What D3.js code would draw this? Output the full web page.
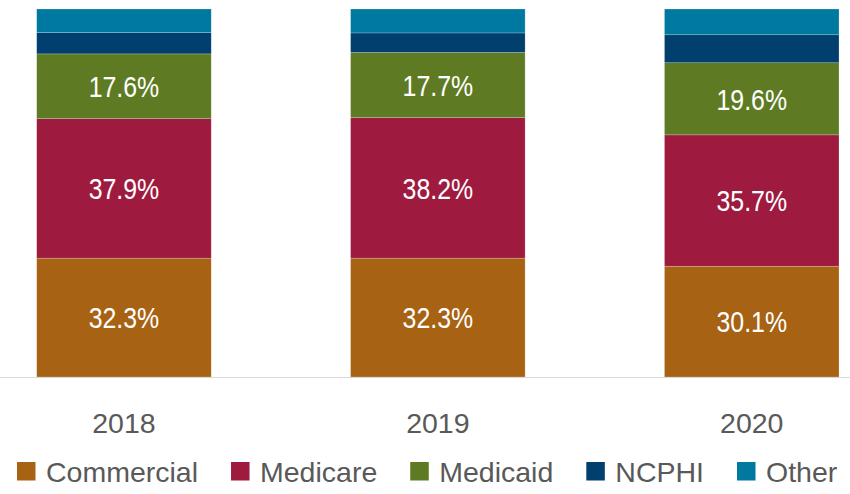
<!DOCTYPE html>
<html lang="en">
  <head>
    <meta charset="UTF-8">
    <title>Payer Mix 2018-2020</title>
    <script src="https://d3js.org/d3.v7.min.js"></script>
    <style>
      body {
        margin: 0;
        padding: 0;
        background-color: #fff;
        font-family: 'Liberation Sans', Arial, sans-serif;
      }
      .bar-label {
        font-size: 30px;
        fill: #fff;
      }
      .year-label {
        font-size: 28.5px;
        fill: #595959;
      }
      .legend text {
        font-size: 28.5px;
        fill: #595959;
      }
    </style>
  </head>
  <body>
    <svg id="chart" width="850" height="494"></svg>
    <script>
      const years = ["2018", "2019", "2020"];
      const payers = ["Commercial", "Medicare", "Medicaid", "NCPHI", "Other"];
      const commercial = [32.3, 32.3, 30.1];
      const medicare = [37.9, 38.2, 35.7];
      const medicaid = [17.6, 17.7, 19.6];
      const ncphi = [5.8, 5.3, 7.6];
      const other = [6.4, 6.5, 7.0];
      const labelled = ["Commercial", "Medicare", "Medicaid"];
      const colors = ["#a86214", "#9e1b3f", "#5e7b23", "#003f6e", "#0079a1"];

      const rows = years.map((y, i) => ({
        year: y,
        Commercial: commercial[i],
        Medicare: medicare[i],
        Medicaid: medicaid[i],
        NCPHI: ncphi[i],
        Other: other[i]
      }));

      const svg = d3.select("#chart");
      const x = d3.scaleBand().domain(years).range([36.7, 839]).paddingInner(0.444).paddingOuter(0);
      const y = d3.scaleLinear().domain([0, 100]).range([377, 9]);
      const color = d3.scaleOrdinal().domain(payers).range(colors);

      const series = d3.stack().keys(payers)(rows);

      const groups = svg.selectAll(".series").data(series).enter().append("g")
        .attr("class", "series")
        .attr("fill", d => color(d.key));

      groups.selectAll("rect").data(d => d).enter().append("rect")
        .attr("x", d => x(d.data.year))
        .attr("width", x.bandwidth())
        .attr("y", d => y(d[1]))
        .attr("height", d => y(d[0]) - y(d[1]))
        .attr("stroke", "#fff")
        .attr("stroke-opacity", 0.35)
        .attr("stroke-width", 0.6);

      // value labels on the three big segments (narrow look, squeezed horizontally)
      series.filter(s => labelled.includes(s.key)).forEach(s => {
        svg.selectAll(null).data(s).enter().append("text")
          .attr("class", "bar-label")
          .attr("transform", d => `translate(${x(d.data.year) + x.bandwidth() / 2},${(y(d[0]) + y(d[1])) / 2}) scale(0.83,1)`)
          .attr("dy", "0.36em")
          .attr("text-anchor", "middle")
          .text(d => d3.format(".1f")(d[1] - d[0]) + "%");
      });

      // baseline
      svg.append("line")
        .attr("x1", 0).attr("x2", 850)
        .attr("y1", y(0) + 0.5).attr("y2", y(0) + 0.5)
        .attr("stroke", "#d9d9d9")
        .attr("stroke-width", 1);

      // x axis labels
      svg.selectAll(".year-label").data(years).enter().append("text")
        .attr("class", "year-label")
        .attr("x", d => x(d) + x.bandwidth() / 2)
        .attr("y", 433)
        .attr("text-anchor", "middle")
        .text(d => d);

      // legend, laid out left to right
      const legend = svg.append("g").attr("class", "legend");
      let lx = 17;
      payers.forEach(p => {
        const item = legend.append("g").attr("transform", `translate(${lx},0)`);
        item.append("rect")
          .attr("x", 0).attr("y", 462)
          .attr("width", 18.5).attr("height", 18.5)
          .attr("fill", color(p));
        const t = item.append("text")
          .attr("x", 29).attr("y", 481.5)
          .text(p);
        lx += 29 + t.node().getComputedTextLength() + 33;
      });
    </script>
  </body>
</html>
